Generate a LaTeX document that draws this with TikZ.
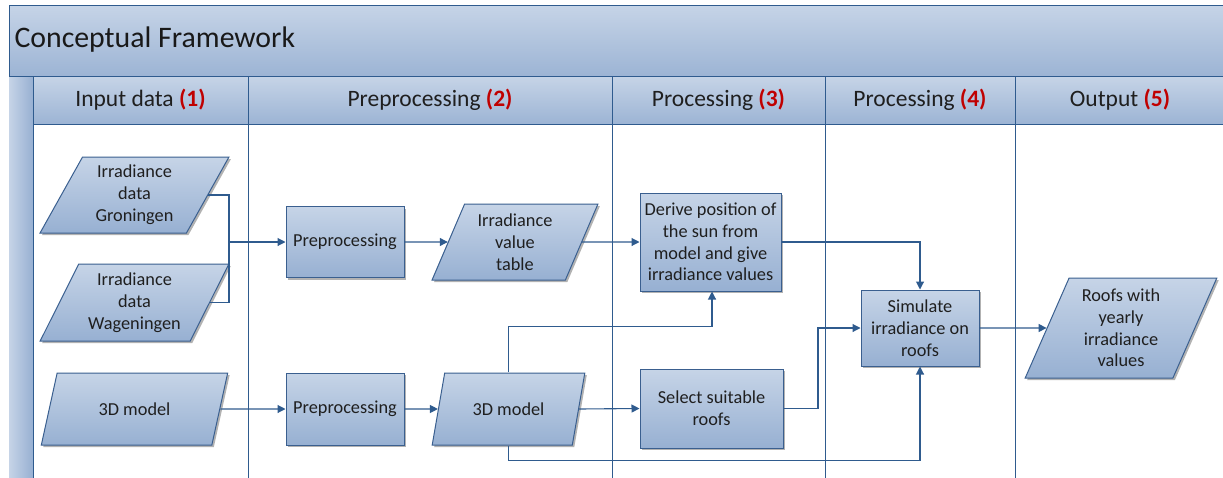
\documentclass[tikz,border=0pt]{standalone}
\usepackage{fontspec}
\setmainfont{Carlito}
\usetikzlibrary{shapes.geometric,shadows,arrows.meta,calc}
\definecolor{lightb}{HTML}{C6D4E7}
\definecolor{darkb}{HTML}{97B0D2}
\definecolor{bordb}{HTML}{3A5F8F}
\definecolor{lineb}{HTML}{2F5B8E}
\definecolor{numred}{HTML}{C00000}
\tikzset{
  shp/.style={draw=bordb, line width=1pt, top color=lightb, bottom color=darkb,
    drop shadow={shadow xshift=2pt, shadow yshift=-2pt, fill=black, opacity=0.3},
    align=center, font=\fontsize{18.3}{21.8}\selectfont, text=black!88, inner sep=1pt},
  boxn/.style={shp, rectangle, minimum width=#1},
  para/.style={shp, trapezium, trapezium stretches=true, trapezium left angle=#1, trapezium right angle=180-#1},
  conn/.style={draw=lineb, line width=1.1pt},
  arr/.style={conn, -{Triangle[length=8pt,width=8pt]}},
  lane/.style={draw=lineb, line width=0.9pt},
  hdr/.style={font=\fontsize{23.5}{27}\selectfont, text=black!88}
}
\begin{document}
\begin{tikzpicture}[x=1pt,y=-1pt]
\useasboundingbox (0,0) rectangle (1223,477);
\clip (0,0) rectangle (1223,477);
% title bar
\fill[top color=lightb, bottom color=darkb!95] (9,5) rectangle (1240,76);
\draw[lane] (1240,5) -- (9,5) -- (9,500);
\node[anchor=west, font=\fontsize{29.8}{34}\selectfont, text=black!90] (title) at (11,40) {Conceptual Framework};
% header row
\fill[top color=lightb, bottom color=darkb!95] (33,76) rectangle (1240,124);
\fill[left color=lightb, right color=darkb] (9,76) rectangle (33,500);
\draw[lane] (9,76) -- (1240,76);
\draw[lane] (33,124) -- (1240,124);
\foreach \xx in {33,248,612,825,1015}{\draw[lane] (\xx,76) -- (\xx,500);}
\node[hdr] (h1) at (140.5,100) {Input data \textcolor{numred}{\textbf{(1)}}};
\node[hdr] (h2) at (430,100) {Preprocessing \textcolor{numred}{\textbf{(2)}}};
\node[hdr] (h3) at (718.5,100) {Processing \textcolor{numred}{\textbf{(3)}}};
\node[hdr] (h4) at (920,100) {Processing \textcolor{numred}{\textbf{(4)}}};
\node[hdr] (h5) at (1120,100) {Output \textcolor{numred}{\textbf{(5)}}};
% shapes
\node[para=62, minimum width=189, minimum height=76] (g) at (134.5,195) {Irradiance\\data\\Groningen};
\node[para=62, minimum width=189, minimum height=77] (w) at (134.5,302.5) {Irradiance\\data\\Wageningen};
\node[para=63, minimum width=187, minimum height=72] (m) at (134.5,409) {3D model};
\node[boxn=118, minimum height=71] (p1) at (345,242) {Preprocessing};
\node[para=67, minimum width=166, minimum height=76] (t) at (515,242) {Irradiance\\value\\table};
\node[boxn=141, minimum height=98] (d) at (710.5,242) {Derive position of\\the sun from\\model and give\\irradiance values};
\node[boxn=118, minimum height=72] (p2) at (345,409) {Preprocessing};
\node[para=64, minimum width=153, minimum height=72] (m2) at (508.5,409) {3D model};
\node[boxn=143, minimum height=79] (s) at (711.5,408.5) {Select suitable\\roofs};
\node[boxn=118, minimum height=76] (sim) at (920,328) {Simulate\\irradiance on\\roofs};
\node[para=67, minimum width=192, minimum height=100] (r) at (1121,328) {Roofs with\\yearly\\irradiance\\values};
% connectors
\coordinate (j) at (229,242);
\coordinate (k) at (818,408.5);
\draw[conn] (g.east) -| (j) |- (w.east);
\draw[arr] (j) -- (p1.west);
\draw[arr] (p1.east) -- (t.west);
\draw[arr] (t.east) -- (d.west);
\draw[arr] (d.east) -| (sim.north);
\draw[arr] (m.east) -- (p2.west);
\draw[arr] (p2.east) -- (m2.west);
\draw[arr] (m2.east) -- (s.west);
\draw[arr] (s.east) -- (k) |- (sim.west);
\draw[arr] (m2.north) -- ++(0,-46) -| ($(d.south)+(1.5,0)$);
\draw[arr] (m2.south) -- ++(0,15) -| (sim.south);
\draw[arr] (sim.east) -- (r.west);
\end{tikzpicture}
\end{document}
